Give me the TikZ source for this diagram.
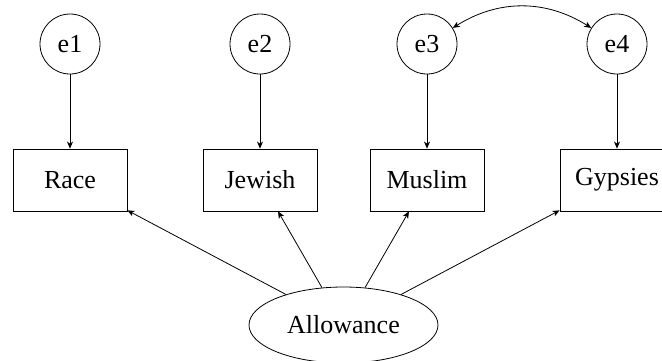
\documentclass[tikz,border=0pt]{standalone}
\usepackage{fontspec}
\setmainfont{Liberation Serif}
\usetikzlibrary{arrows.meta,shapes.geometric}
\begin{document}
\begin{tikzpicture}[x=1pt,y=-1pt,
  every node/.style={font=\fontsize{26}{30}\selectfont},
  tip/.tip={Stealth[length=7pt,width=6pt,inset=2pt]},
  err/.style={draw,circle,minimum size=60pt,inner sep=0pt,line width=0.8pt},
  obs/.style={draw,rectangle,minimum width=114pt,minimum height=62pt,inner sep=0pt,line width=0.8pt},
  lat/.style={draw,ellipse,minimum width=189pt,minimum height=76pt,inner sep=0pt,line width=0.8pt},
  conn/.style={line width=0.8pt,-tip},
  conn2/.style={line width=0.8pt,tip-tip}]
\useasboundingbox (0,0) rectangle (662,360);
\node[err] (e1) at (70,44) {e1};
\node[err] (e2) at (260,44) {e2};
\node[err] (e3) at (427,44) {e3};
\node[err] (e4) at (617,44) {e4};
\node[obs] (race) at (70,180) {Race};
\node[obs] (jew) at (260,180) {Jewish};
\node[obs] (mus) at (427,180) {Muslim};
\node[obs] (gyp) at (617,180) {Gypsies};
\node[lat] (all) at (343.5,325) {Allowance};
\draw[conn] (e1) -- (race);
\draw[conn] (e2) -- (jew);
\draw[conn] (e3) -- (mus);
\draw[conn] (e4) -- (gyp);
\draw[conn] (all) -- (race);
\draw[conn] (all) -- (jew);
\draw[conn] (all) -- (mus);
\draw[conn] (all) -- (gyp);
\draw[conn2] (e3) to[bend left=32] (e4);
\end{tikzpicture}
\end{document}
